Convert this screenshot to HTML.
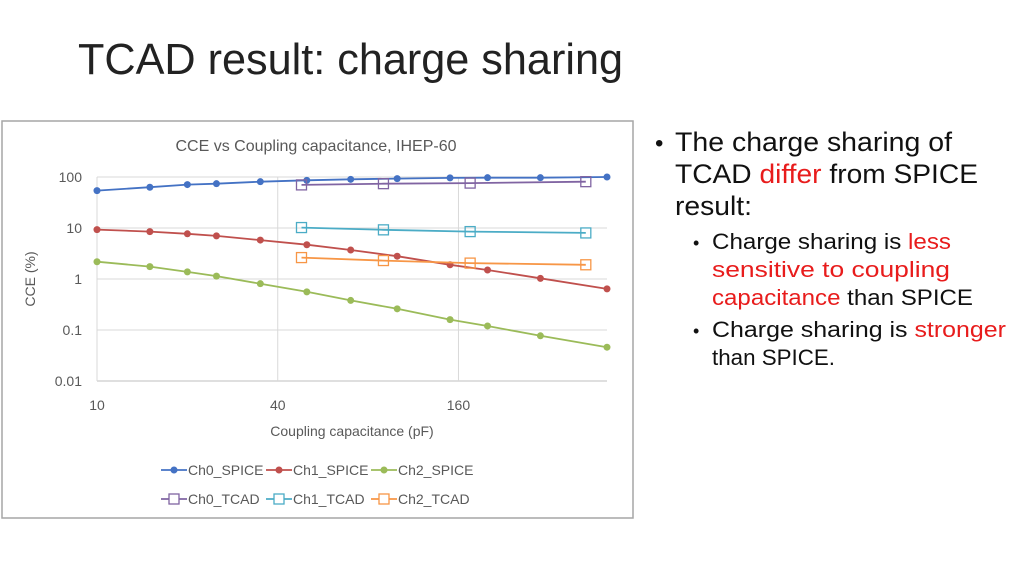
<!DOCTYPE html>
<html><head><meta charset="utf-8"><style>
body{margin:0;background:#fff;}
svg{display:block;font-family:"Liberation Sans",sans-serif;}
</style></head><body>
<svg id="page" width="1024" height="576" viewBox="0 0 1024 576">
<text x="78" y="74" font-size="44" fill="#222" textLength="545" lengthAdjust="spacingAndGlyphs">TCAD result: charge sharing</text>
<rect x="2" y="121" width="631" height="397" fill="#fff" stroke="#a6a6a6" stroke-width="1.5"/>
<text x="316" y="151" font-size="16" fill="#595959" text-anchor="middle">CCE vs Coupling capacitance, IHEP-60</text>
<g id="grid"></g>
<g id="axes"></g>
<g id="series"></g>
<text x="352" y="436" font-size="14" fill="#595959" text-anchor="middle">Coupling capacitance (pF)</text>
<text transform="translate(35,279) rotate(-90)" font-size="14" fill="#595959" text-anchor="middle">CCE (%)</text>
<g id="legend"></g>
<g font-size="27" fill="#111">
<text x="655" y="151" font-size="24">•</text>
<text x="675" y="151" textLength="277" lengthAdjust="spacingAndGlyphs">The charge sharing of</text>
<text x="675" y="183" textLength="303" lengthAdjust="spacingAndGlyphs">TCAD <tspan fill="#e81c1c">differ</tspan> from SPICE</text>
<text x="675" y="215" textLength="77" lengthAdjust="spacingAndGlyphs">result:</text>
</g>
<g font-size="22" fill="#111">
<text x="693" y="249" font-size="18">•</text>
<text x="712" y="249" textLength="239" lengthAdjust="spacingAndGlyphs">Charge sharing is <tspan fill="#e81c1c">less</tspan></text>
<text x="712" y="277" fill="#e81c1c" textLength="238" lengthAdjust="spacingAndGlyphs">sensitive to coupling</text>
<text x="712" y="305" textLength="261" lengthAdjust="spacingAndGlyphs"><tspan fill="#e81c1c">capacitance</tspan> than SPICE</text>
<text x="693" y="337" font-size="18">•</text>
<text x="712" y="337" textLength="294" lengthAdjust="spacingAndGlyphs">Charge sharing is <tspan fill="#e81c1c">stronger</tspan></text>
<text x="712" y="365" textLength="123" lengthAdjust="spacingAndGlyphs">than SPICE.</text>
</g>
</svg>
<script>
const spiceX = [10,15,20,25,35,50,70,100,150,200,300,500];
const ch0Spice = [54,63,71,74,81,86,90,93,96,97,97,100];
const ch1Spice = [9.3,8.5,7.7,7.0,5.8,4.7,3.7,2.8,1.9,1.5,1.03,0.64];
const ch2Spice = [2.18,1.75,1.38,1.14,0.81,0.56,0.38,0.26,0.16,0.12,0.077,0.046];
const tcadX = [48,90,175,425];
const ch0Tcad = [70,74,76,81];
const ch1Tcad = [10.2,9.2,8.5,8.0];
const ch2Tcad = [2.63,2.3,2.05,1.9];
const yTicks = [100,10,1,0.1,0.01];
const yTickLabels = ["100","10","1","0.1","0.01"];
const xTicks = [10,40,160];
const xTickLabels = ["10","40","160"];

const NS="http://www.w3.org/2000/svg";
const X0=97, X1=607, Y0=177, Y1=381;
const xMin=10, xMax=500;
function sx(v){return X0+(Math.log(v/xMin)/Math.log(xMax/xMin))*(X1-X0);}
function sy(v){return Y0+(Math.log10(100)-Math.log10(v))/(Math.log10(100)-Math.log10(0.01))*(Y1-Y0);}
function mk(tag,attrs,parent){const e=document.createElementNS(NS,tag);for(const k in attrs)e.setAttribute(k,attrs[k]);parent.appendChild(e);return e;}
const grid=document.getElementById('grid'), axes=document.getElementById('axes'), series=document.getElementById('series'), legend=document.getElementById('legend');
yTicks.forEach((t,i)=>{
  const l=mk('line',{x1:X0,x2:X1,y1:sy(t),y2:sy(t),stroke:i===yTicks.length-1?'#bfbfbf':'#d9d9d9','stroke-width':1},grid);
  
  
  const tx=mk('text',{x:82,y:sy(t)+5,'font-size':14,fill:'#595959','text-anchor':'end'},axes);
  tx.textContent=yTickLabels[i];
  
  
});
xTicks.forEach((t,i)=>{
  const l=mk('line',{x1:sx(t),x2:sx(t),y1:Y0,y2:Y1,stroke:'#d9d9d9','stroke-width':1},grid);
  
  
  const tx=mk('text',{x:sx(t),y:410,'font-size':14,fill:'#595959','text-anchor':'middle'},axes);
  tx.textContent=xTickLabels[i];
  
  
});
function drawSeries(xs,ys,color,marker,name){
  const g=mk('g',{},series);
  
  
  const pts=xs.map((x,i)=>sx(x).toFixed(1)+','+sy(ys[i]).toFixed(1)).join(' ');
  const pl=mk('polyline',{points:pts,fill:'none',stroke:color,'stroke-width':1.8},g);
  
  
  xs.forEach((x,i)=>{
    let m;
    if(marker==='dot') m=mk('circle',{cx:sx(x),cy:sy(ys[i]),r:3.5,fill:color},g);
    else m=mk('rect',{x:sx(x)-5,y:sy(ys[i])-5,width:10,height:10,fill:'none',stroke:color,'stroke-width':1.3},g);
    
    
  });
}
drawSeries(spiceX,ch0Spice,'#4472c4','dot','ch0-spice');
drawSeries(spiceX,ch1Spice,'#c0504d','dot','ch1-spice');
drawSeries(spiceX,ch2Spice,'#9bbb59','dot','ch2-spice');
drawSeries(tcadX,ch0Tcad,'#8064a2','sq','ch0-tcad');
drawSeries(tcadX,ch1Tcad,'#4bacc6','sq','ch1-tcad');
drawSeries(tcadX,ch2Tcad,'#f79646','sq','ch2-tcad');
const legNames=['Ch0_SPICE','Ch1_SPICE','Ch2_SPICE','Ch0_TCAD','Ch1_TCAD','Ch2_TCAD'];
const legColors=['#4472c4','#c0504d','#9bbb59','#8064a2','#4bacc6','#f79646'];
legNames.forEach((n,i)=>{
  const col=i%3,row=Math.floor(i/3);
  const x=161+col*105,y=470+row*29;
  const g=mk('g',{},legend);
  
  
  mk('line',{x1:x,x2:x+26,y1:y,y2:y,stroke:legColors[i],'stroke-width':1.8},g);
  if(row===0) mk('circle',{cx:x+13,cy:y,r:3.5,fill:legColors[i]},g);
  else mk('rect',{x:x+8,y:y-5,width:10,height:10,fill:'#fff',stroke:legColors[i],'stroke-width':1.3},g);
  const t=mk('text',{x:x+27,y:y+5,'font-size':14,fill:'#595959'},g);
  t.textContent=n;
});
</script>
</body></html>
